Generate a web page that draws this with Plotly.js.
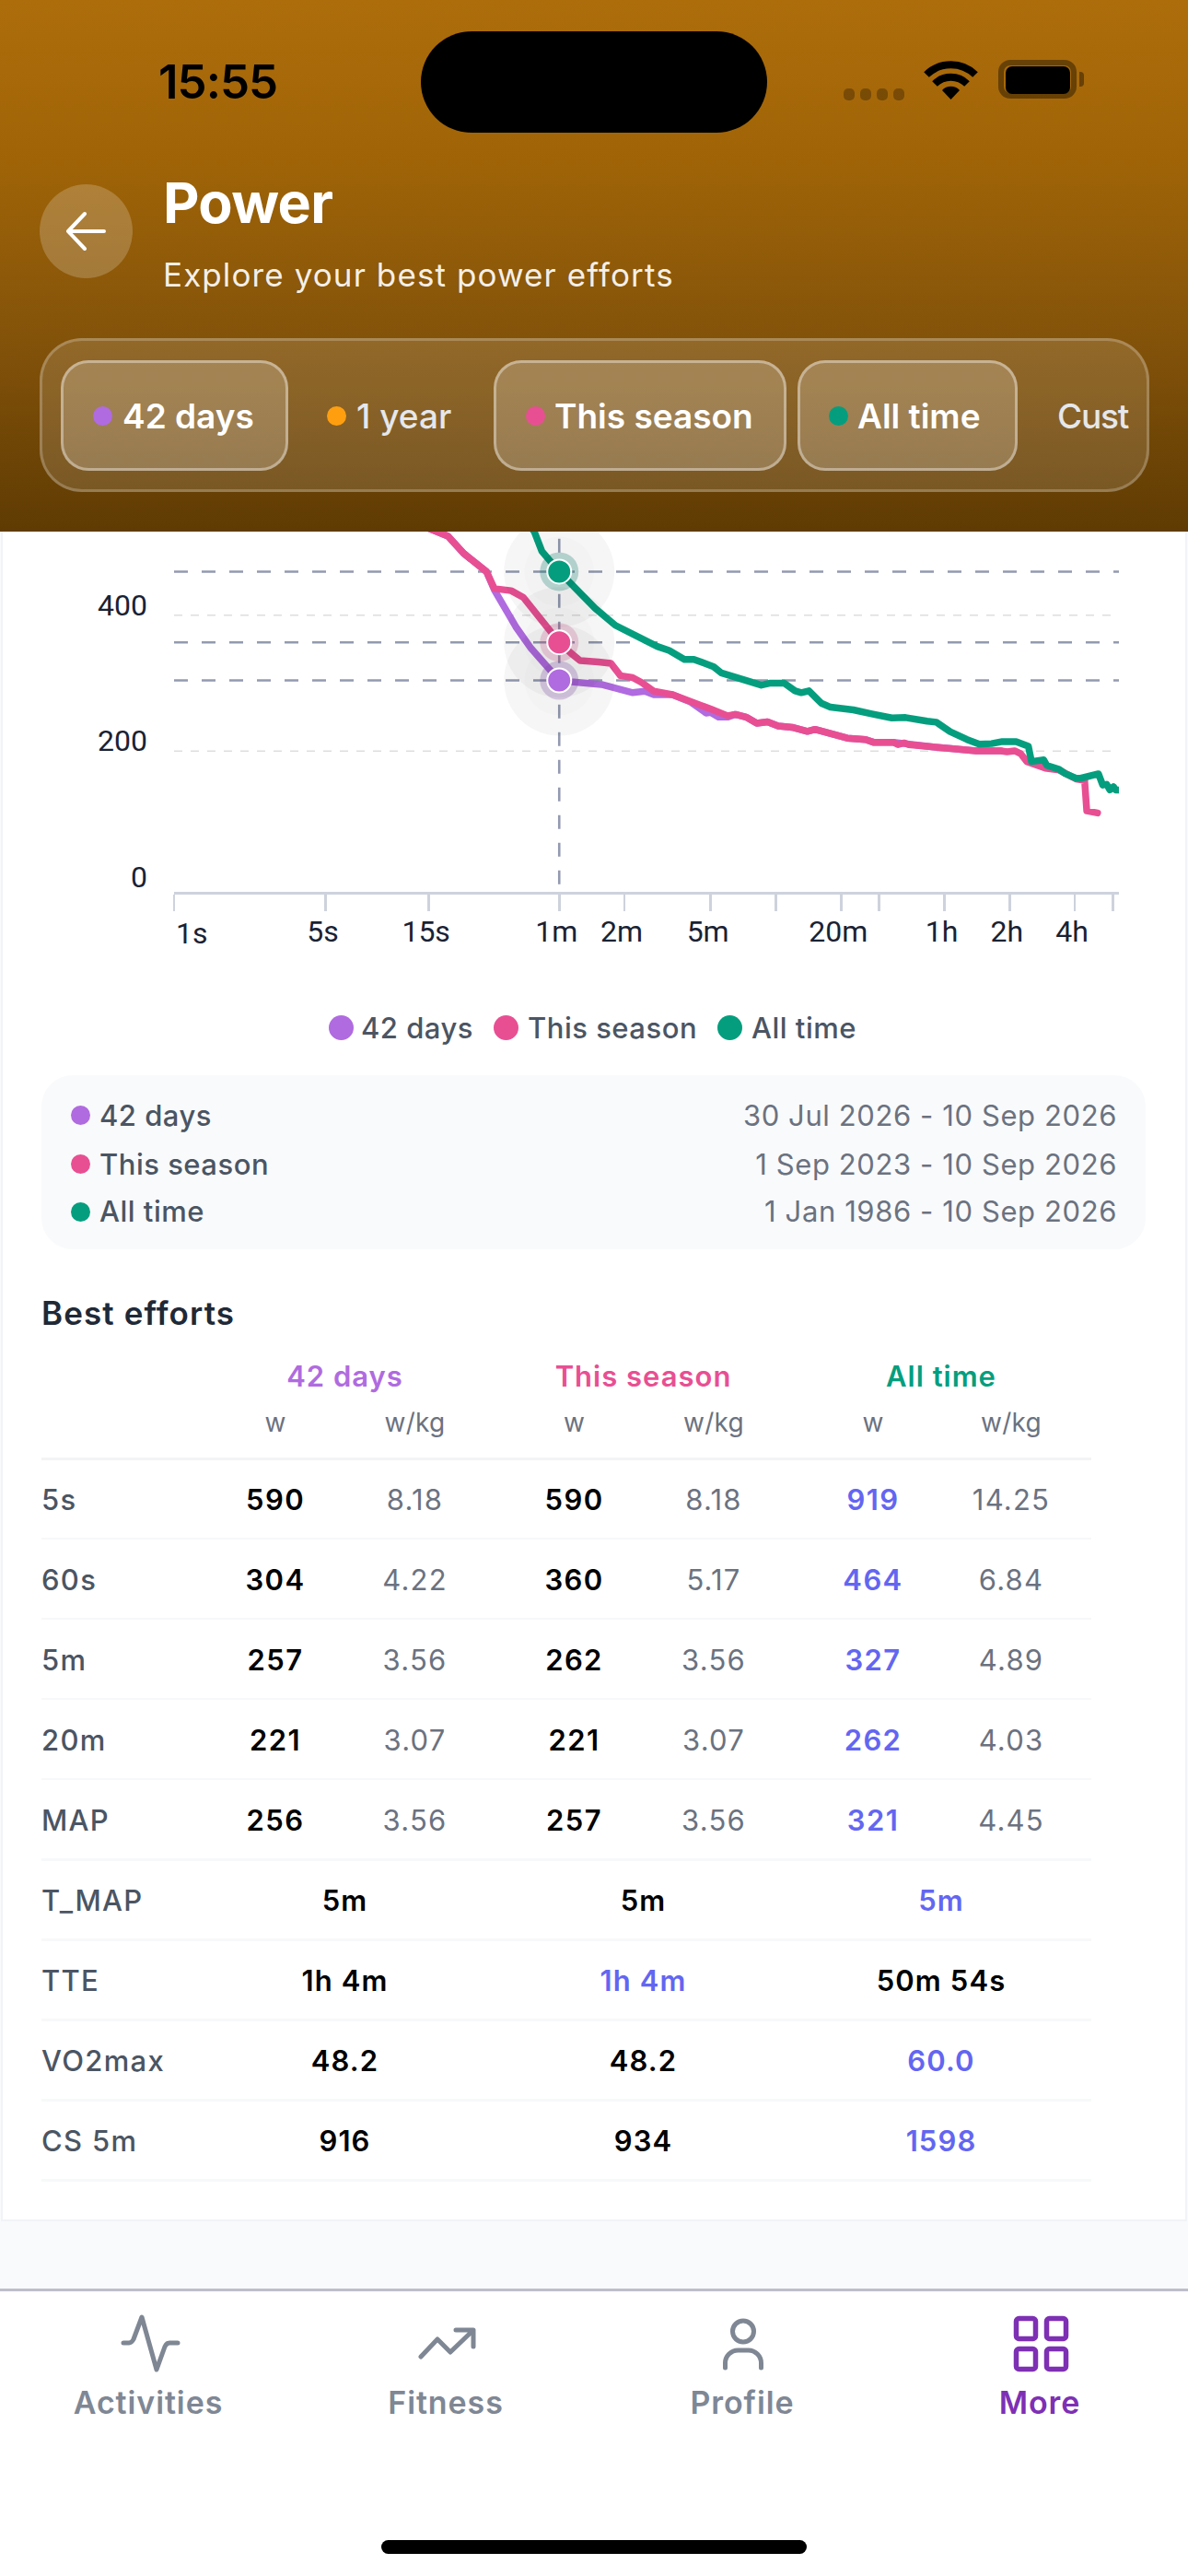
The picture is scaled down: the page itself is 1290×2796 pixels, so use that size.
<!DOCTYPE html>
<html><head><meta charset="utf-8">
<script src="https://cdn.plot.ly/plotly-3.0.1.min.js"></script>
<style>
html,body{margin:0;padding:0;background:#f9fafb}
#stage{position:relative;width:1290px;height:2796px;overflow:hidden;font-family:Inter,sans-serif;background:#f9fafb}
#card{position:absolute;left:3px;top:570px;width:1284px;height:1839px;background:#fff;box-shadow:0 0 0 2px #f1f3f6}
#plot{position:absolute;left:0;top:0;width:1290px;height:1060px;z-index:2}
#header{position:absolute;left:0;top:0;width:1290px;height:577px;z-index:5;background:linear-gradient(180deg,#ad6d0b 0%,#a06407 30%,#85540a 62%,#5f3b03 100%);overflow:hidden}
#tabbar{position:absolute;left:0;top:2484px;width:1290px;height:312px;background:#fff;border-top:3px solid #bdbdcb;box-sizing:border-box;z-index:4}
.t{position:absolute;line-height:0;white-space:nowrap}
.b{position:absolute;box-sizing:border-box}
.js-line{stroke-linecap:round;stroke-linejoin:round}
</style></head><body>
<div id="stage">
<div id="card"></div>
<div id="plot"></div>
<div id="content" style="position:absolute;left:0;top:0;z-index:3"></div>
<div id="header"></div>
<svg id="icons" width="1290" height="2796" style="position:absolute;left:0;top:0;z-index:6;pointer-events:none"></svg>
<div id="tabbar"></div>
<div id="over" style="position:absolute;left:0;top:0;z-index:7"></div>
</div>
<script>
// ---------- chart data (duration in seconds, power in watts) ----------
var seasonT=[5,16.4,18.4,21.7,26,27.7,30.1,36,41,48.3,54.1,60,68,75,91,104,115,131,144,164,200,243,300,359,390,437,490,549,615,713,839,910,1089,1200,1282,1559,1693,2093,2198,2345,2463,3199,3767,5050,6556,7003,7595,8110,8650,9700,10520,12190,14590,15980,16350,18340];
var seasonW=[590,523,516,491,469,464,439,436,426,396,378,360,344,333,331,329,311,308,301,288,283,274,262,252,254,250,241,243,237,235,229,232,224,221,219,217,213,213,209.5,212,209.5,206,204,200.4,200.4,199,200.4,196,184.6,178,175,172,159,157,112,109];
var daysT=[5,16.4,18.4,21.7,26,27.7,30.1,37.8,44.5,55,60,68,94,131,149,164,200,243,286,300,326,359,390,437,490,549,615,713,839,910,1089,1200,1282,1559,1693,2093,2463,3199,3767,5050,6556];
var daysW=[590,523,516,491,469,464,437,383,351,317,304,302,298,286,288,283,283,272,256,257,250,250,254,250,241,243,237,235,229,232,224,221,219,217,213,213,209.5,206,204,200.4,200.4];
var allT=[5,46,49.9,60,72.6,88,109,139,170,193,227,251,290,310,336,371,396,451,514,567,656,736,786,853,972,1072,1163,1260,1368,1663,1835,2058,2383,2760,2996,3304,3826,4581,5218,5943,6660,7718,8375,8790,9083,10350,10695,12190,13000,14590,15320,16890,18510,19380,20210,20900,21730,22300,23000];
var allW=[919,523,494,464,437,410,385,367,354,348,335,335,328,324,315,311,306,303,297,300,300,288.6,286,288.6,270.5,264.6,263.7,261,260.6,254.7,251.5,248.8,249.3,247.4,244,242.5,228.5,217,210,211,214,214,209,207,184.6,187,179,173,167,160,160,164,166.5,150,151,143,147.6,142.6,142.6];
var seriesNames=['42 days','This season','All time'];
var seriesColors=['#b06be0','#e84f93','#049e7e'];
var hoverT=60;
var hoverW=[304,360,464];
var xTickVals=[1,5,15,60,120,300,600,1200,1800,3600,7200,14400,21600];
var xTickText=['','5s','15s','1m','2m','5m','','20m','','1h','2h','4h',''];
var yTickVals=[0,200,400];
var gridVals=[200,400];

// ---------- page data ----------
var dateRows=['30 Jul 2026 - 10 Sep 2026','1 Sep 2023 - 10 Sep 2026','1 Jan 1986 - 10 Sep 2026'];
var wattRows=['5s','60s','5m','20m','MAP'];
var watts=[[590,304,257,221,256],[590,360,262,221,257],[919,464,327,262,321]];
var wkgs=[['8.18','4.22','3.56','3.07','3.56'],['8.18','5.17','3.56','3.07','3.56'],['14.25','6.84','4.89','4.03','4.45']];
var otherRows=['T_MAP','TTE','VO2max','CS 5m'];
var otherVals=[['5m','1h 4m','48.2','916'],['5m','1h 4m','48.2','934'],['5m','50m 54s','60.0','1598']];
var otherBest=[2,1,2,2];
var tabs=['Activities','Fitness','Profile','More'];

// ---------- plot ----------
var traces=[];
[[daysT,daysW],[seasonT,seasonW],[allT,allW]].forEach(function(s,i){
  traces.push({type:'scatter',mode:'lines',name:seriesNames[i],x:s[0],y:s[1],cliponaxis:false,
    line:{color:seriesColors[i],width:7.5,shape:'linear'},hoverinfo:'skip'});
});
hoverW.forEach(function(w){
  traces.push({type:'scatter',mode:'markers',x:[hoverT],y:[w],showlegend:false,hoverinfo:'skip',
    marker:{size:120,color:'rgba(0,0,0,0.036)',line:{width:0}}});
  traces.push({type:'scatter',mode:'markers',x:[hoverT],y:[w],showlegend:false,hoverinfo:'skip',
    marker:{size:76,color:'rgba(0,0,0,0.012)',line:{width:0}}});
});
var haloColors=['rgba(120,70,160,0.27)','rgba(190,60,120,0.22)','rgba(4,120,100,0.27)'];
hoverW.forEach(function(w,i){
  traces.push({type:'scatter',mode:'markers',x:[hoverT],y:[w],showlegend:false,hoverinfo:'skip',
    marker:{size:42,color:haloColors[i],line:{width:0}}});
});
hoverW.forEach(function(w,i){
  traces.push({type:'scatter',mode:'markers',x:[hoverT],y:[w],name:seriesNames[i],showlegend:false,hoverinfo:'skip',
    marker:{size:26,color:seriesColors[i],line:{color:'#fff',width:2}}});
});
var shapes=[];
gridVals.forEach(function(v){
  shapes.push({type:'line',layer:'below',xref:'x',yref:'y',x0:1,x1:21090,y0:v,y1:v,line:{color:'#dedede',width:1.6,dash:'9px,9px'}});
});
hoverW.forEach(function(v){
  shapes.push({type:'line',layer:'below',xref:'paper',yref:'y',x0:0,x1:1,y0:v,y1:v,line:{color:'#939ab0',width:2.6,dash:'15px,15px'}});
});
shapes.push({type:'line',layer:'below',xref:'x',yref:'y',x0:hoverT,x1:hoverT,y0:4,y1:620,line:{color:'#939ab0',width:2.6,dash:'15px,15px'}});
Plotly.newPlot('plot',traces,{
  width:1290,height:1060,showlegend:false,
  margin:{l:189,r:75,t:225.3,b:92,pad:0},
  paper_bgcolor:'rgba(0,0,0,0)',plot_bgcolor:'rgba(0,0,0,0)',
  font:{family:'Roboto, sans-serif',size:32,color:'#1a2233'},
  xaxis:{type:'log',range:[0,4.362],tickmode:'array',tickvals:xTickVals,ticktext:xTickText,showgrid:false,zeroline:false,
    showline:true,linecolor:'#cdd2dc',linewidth:2.6,ticks:'outside',ticklen:18,tickwidth:2.6,tickcolor:'#cdd2dc',
    ticklabelshift:-3,ticklabelstandoff:-5,tickfont:{family:'Roboto, sans-serif',size:32,color:'#1a2233'},automargin:false},
  yaxis:{range:[-7.05,1000],tickmode:'array',tickvals:yTickVals,showgrid:false,zeroline:false,showline:false,ticks:'',
    ticklabelshift:-11,ticklabelstandoff:28,tickfont:{family:'Roboto, sans-serif',size:32,color:'#1a2233'},automargin:false},
  shapes:shapes,
  annotations:[{text:'1s',xref:'x',yref:'paper',x:0,y:0,xanchor:'left',yanchor:'top',yshift:-24,showarrow:false,
    font:{family:'Roboto, sans-serif',size:32,color:'#1a2233'}}]
},{displayModeBar:false,staticPlot:true});

// ---------- page chrome ----------
function T(parent,text,x,y,o){o=o||{};var d=document.createElement('div');d.className='t';d.textContent=text;
  var tr=o.a==='c'?'translateX(-50%)':o.a==='r'?'translateX(-100%)':'';
  d.style.cssText='left:'+x+'px;top:'+y+'px;font-size:'+(o.s||30)+'px;font-weight:'+(o.w||400)+';color:'+(o.c||'#4b5563')+';transform:'+tr+';letter-spacing:'+(o.l||0)+'px;';
  parent.appendChild(d);return d;}
function B(parent,l,t,w,h,css){var d=document.createElement('div');d.className='b';d.style.cssText='left:'+l+'px;top:'+t+'px;width:'+w+'px;height:'+h+'px;'+css;parent.appendChild(d);return d;}
var hd=document.getElementById('header'),ct=document.getElementById('content'),ov=document.getElementById('over');
// status bar
T(hd,'15:55',172,88.6,{s:51,w:600,c:'#000',l:-1});
B(hd,456.5,33.5,376.5,110.5,'background:#000;border-radius:55px;');
[916,934,952,970].forEach(function(x){B(hd,x,95.5,12,13,'background:rgba(0,0,0,.27);border-radius:5px;');});
B(hd,1084,65,85,42,'border:6px solid rgba(0,0,0,.38);border-radius:13px;');
B(hd,1092,71.5,70,30,'background:#000;border-radius:7px;');
B(hd,1172,78,5,16,'background:rgba(0,0,0,.38);border-radius:0 4px 4px 0;');
// title
B(hd,43,200,101,102,'background:rgba(255,255,255,.2);border-radius:50%;');
T(hd,'Power',177,220,{s:61,w:700,c:'#fff',l:-0.7});
T(hd,'Explore your best power efforts',177,298,{s:35,w:400,c:'rgba(255,255,255,.93)',l:1.1});
// selector
B(hd,43,367,1205,167,'background:rgba(255,255,255,.13);border:3px solid rgba(255,255,255,.22);border-radius:46px;');
var pills=[[66,247],[536,318],[866,239]];
pills.forEach(function(p){B(hd,p[0],391,p[1],120,'background:rgba(255,255,255,.2);border:3px solid rgba(255,255,255,.38);border-radius:30px;');});
var pillItems=[['42 days',101,133,'#b06be0',600],['1 year',355,387,'#ff9f10',500],['This season',571,602,'#e84f93',600],['All time',900,931,'#049e7e',600]];
pillItems.forEach(function(p){
  B(hd,p[1],441,21,21,'background:'+p[3]+';border-radius:50%;');
  T(hd,p[0],p[2],451.6,{s:37,w:p[4],c:p[4]===600?'#fff':'#e5e7eb'});
});
T(hd,'Cust',1148,451.6,{s:37,w:500,c:'#e5e7eb',l:-1.2});
// legend
var legendX=[[370,392],[549.6,573],[792,816]];
seriesNames.forEach(function(n,i){
  B(ct,legendX[i][0]-13.5,1102,27,27,'background:'+seriesColors[i]+';border-radius:50%;');
  T(ct,n,legendX[i][1],1115.8,{s:31,w:500,c:'#4b5563',l:0.5});
});
// date panel
B(ct,45,1167,1199,189,'background:#f9fafb;border-radius:34px;');
var dateY=[1210.7,1263.5,1315];
seriesNames.forEach(function(n,i){
  B(ct,77,dateY[i]-10.5,21,21,'background:'+seriesColors[i]+';border-radius:50%;');
  T(ct,n,108,dateY[i],{s:31,w:500,c:'#4b5563',l:0.5});
  T(ct,dateRows[i],1213,dateY[i],{s:31,w:400,c:'#6b7280',a:'r',l:0.6});
});
// table
T(ct,'Best efforts',45,1425,{s:35,w:600,c:'#1f2937',l:1.1});
var groupC=[374.5,698.5,1022],wC=[299,623.5,948],kC=[450.5,775,1098];
seriesNames.forEach(function(n,i){
  T(ct,n,groupC[i],1494,{s:31,w:600,c:seriesColors[i],a:'c',l:1});
  T(ct,'w',wC[i],1544,{s:28,c:'#6b7280',a:'c'});
  T(ct,'w/kg',kC[i],1544,{s:28,c:'#6b7280',a:'c',l:0.3});
});
B(ct,45,1582,1140,3,'background:#f3f4f6;');
var rowH=87.1;
wattRows.forEach(function(r,j){
  var y=1627.5+rowH*j;
  T(ct,r,45,y,{s:31,w:500,l:1.3});
  for(var i=0;i<3;i++){
    T(ct,String(watts[i][j]),wC[i],y,{s:31,w:600,c:i===2?'#6366f1':'#000',a:'c',l:1.4});
    T(ct,wkgs[i][j],kC[i],y,{s:31,c:'#6b7280',a:'c',l:1.2});
  }
});
otherRows.forEach(function(r,j){
  var y=1627.5+rowH*(j+5);
  T(ct,r,45,y,{s:31,w:500,l:1.3});
  for(var i=0;i<3;i++){
    T(ct,otherVals[i][j],groupC[i],y,{s:31,w:600,c:otherBest[j]===i?'#6366f1':'#000',a:'c',l:1.1});
  }
});
for(var k=1;k<=9;k++){B(ct,45,1582+rowH*k-0.5,1140,2.5,'background:#f7f8f9;');}
// tab bar
var tabC=[161,484,806,1129];
tabs.forEach(function(n,i){T(ov,n,tabC[i],2608,{s:34,w:600,c:i===3?'#7e30b4':'#7f8794',a:'c',l:0.9});});
B(ov,414,2757,462,15,'background:#000;border-radius:8px;');
// icons
var G='#7f8794',P='#7e30b4';
document.getElementById('icons').innerHTML=
 '<path d="M74 251H113M92 232L74 251L92 270" fill="none" stroke="#fff" stroke-width="4" stroke-linecap="round" stroke-linejoin="round"/>'+
 '<path d="M1006 81a38 38 0 0 1 53 0" fill="none" stroke="#000" stroke-width="8"/>'+
 '<path d="M1015 91a25 25 0 0 1 35 0" fill="none" stroke="#000" stroke-width="8"/>'+
 '<path d="M1023 98a13 13 0 0 1 19 0L1032.5 108z" fill="#000"/>';
var svg2=document.createElementNS('http://www.w3.org/2000/svg','svg');
svg2.setAttribute('width','1290');svg2.setAttribute('height','2796');
svg2.style.cssText='position:absolute;left:0;top:0;pointer-events:none';
svg2.innerHTML=
 '<path d="M134 2543h6q3 0 5-4l9-24l16 57l9-25q2-4 5-4h9" fill="none" stroke="'+G+'" stroke-width="5" stroke-linecap="round" stroke-linejoin="round"/>'+
 '<path d="M457 2558l18-19l14 14l24-23M495 2529h19v18" fill="none" stroke="'+G+'" stroke-width="5" stroke-linecap="round" stroke-linejoin="round"/>'+
 '<circle cx="807" cy="2530.5" r="11.5" fill="none" stroke="'+G+'" stroke-width="5"/>'+
 '<path d="M787.5 2570v-5a14 14 0 0 1 14-14h11a14 14 0 0 1 14 14v5" fill="none" stroke="'+G+'" stroke-width="5" stroke-linecap="round"/>'+
 '<rect x="1103.5" y="2516.5" width="21" height="22" rx="3" fill="none" stroke="'+P+'" stroke-width="5.5"/>'+
 '<rect x="1136.5" y="2516.5" width="21" height="22" rx="3" fill="none" stroke="'+P+'" stroke-width="5.5"/>'+
 '<rect x="1103.5" y="2549.5" width="21" height="22" rx="3" fill="none" stroke="'+P+'" stroke-width="5.5"/>'+
 '<rect x="1136.5" y="2549.5" width="21" height="22" rx="3" fill="none" stroke="'+P+'" stroke-width="5.5"/>';
ov.appendChild(svg2);
</script>
</body></html>
